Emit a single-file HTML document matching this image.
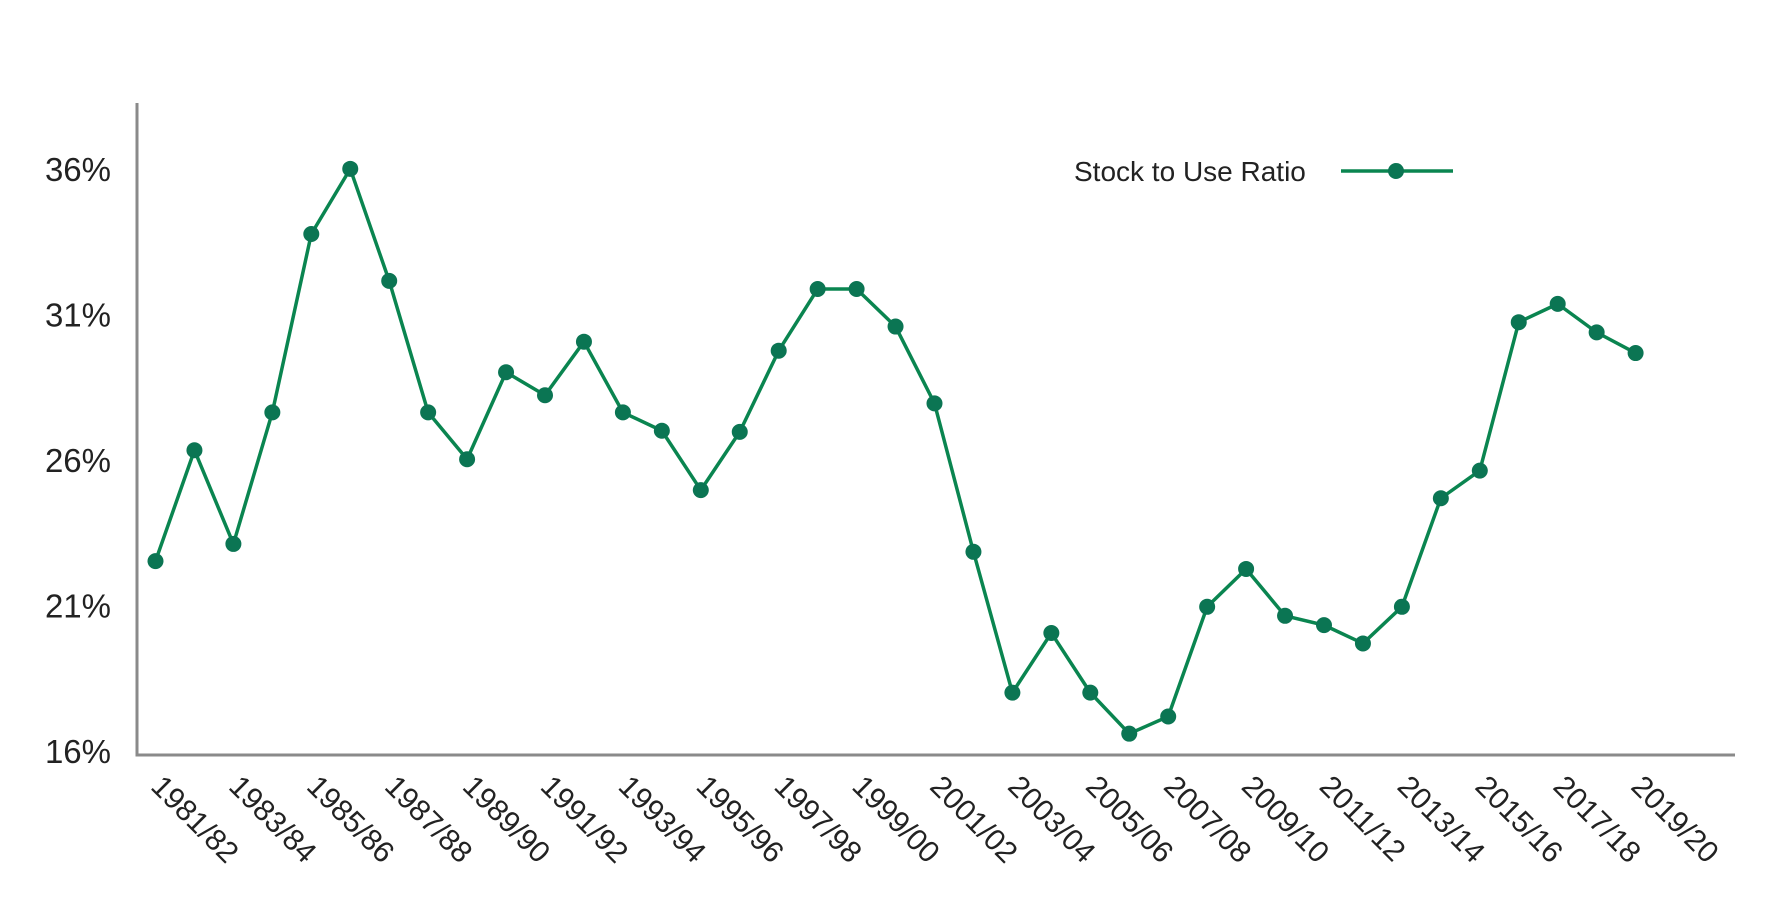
<!DOCTYPE html>
<html><head><meta charset="utf-8"><style>
html,body{margin:0;padding:0;background:#fff;}
svg{display:block;font-family:"Liberation Sans",Arial,sans-serif;}
</style></head><body>
<svg id="chart" width="1783" height="921" viewBox="0 0 1783 921" xmlns="http://www.w3.org/2000/svg"></svg>
<script>
const categories = ["1981/82","1982/83","1983/84","1984/85","1985/86","1986/87","1987/88","1988/89","1989/90","1990/91","1991/92","1992/93","1993/94","1994/95","1995/96","1996/97","1997/98","1998/99","1999/00","2000/01","2001/02","2002/03","2003/04","2004/05","2005/06","2006/07","2007/08","2008/09","2009/10","2010/11","2011/12","2012/13","2013/14","2014/15","2015/16","2016/17","2017/18","2018/19","2019/20"];
const ratioValues = [22.56,26.37,23.15,27.67,33.8,36.04,32.19,27.67,26.06,29.05,28.26,30.1,27.67,27.04,25.0,27.0,29.79,31.91,31.91,30.62,27.98,22.88,18.04,20.09,18.04,16.63,17.22,20.99,22.29,20.68,20.36,19.73,20.99,24.72,25.67,30.77,31.4,30.42,29.71];
const yTicks = [16,21,26,31,36];
const yTickLabels = ["16%","21%","26%","31%","36%"];

const NS="http://www.w3.org/2000/svg";
const svg=document.getElementById('chart');
const axL=137, axB=755, axT=103, axR=1735;
const x0=155.5, dx=38.95;
function xs(i){return x0+i*dx;}
function ys(v){return 752-(v-16)*(582/20);}
function mk(t,a,p){const e=document.createElementNS(NS,t);for(const k in a)e.setAttribute(k,a[k]);(p||svg).appendChild(e);return e;}

const yAxis=mk('line',{x1:axL,y1:axT,x2:axL,y2:axB+1.5,stroke:'#8a8a8a','stroke-width':3});


const xAxis=mk('line',{x1:axL-1.5,y1:axB,x2:axR,y2:axB,stroke:'#8a8a8a','stroke-width':3});



yTicks.forEach((v,i)=>{
  const t=mk('text',{x:111,y:ys(v)+11,'text-anchor':'end','font-size':33,fill:'#222'});
  t.textContent=yTickLabels[i];
  
  
});

categories.forEach((c,i)=>{
  if(i%2!==0)return;
  const x=xs(i)-6, y=788;
  const t=mk('text',{x:x,y:y,'font-size':30,fill:'#222',transform:`rotate(45 ${x} ${y})`});
  t.textContent=c;
  
  
});

const pts=ratioValues.map((v,i)=>xs(i)+','+ys(v)).join(' ');
const line=mk('polyline',{points:pts,fill:'none',stroke:'#0a8550','stroke-width':3.5,'stroke-linejoin':'round'});


ratioValues.forEach((v,i)=>{
  const c=mk('circle',{cx:xs(i),cy:ys(v),r:8,fill:'#0b7553'});
  
  
});

const lt=mk('text',{x:1074,y:181,'font-size':28,fill:'#222'});
lt.textContent='Stock to Use Ratio';


const ll=mk('line',{x1:1341,y1:171,x2:1453,y2:171,stroke:'#0a8550','stroke-width':3.5});


const lc=mk('circle',{cx:1396,cy:171,r:8,fill:'#0b7553'});


</script>
</body></html>
